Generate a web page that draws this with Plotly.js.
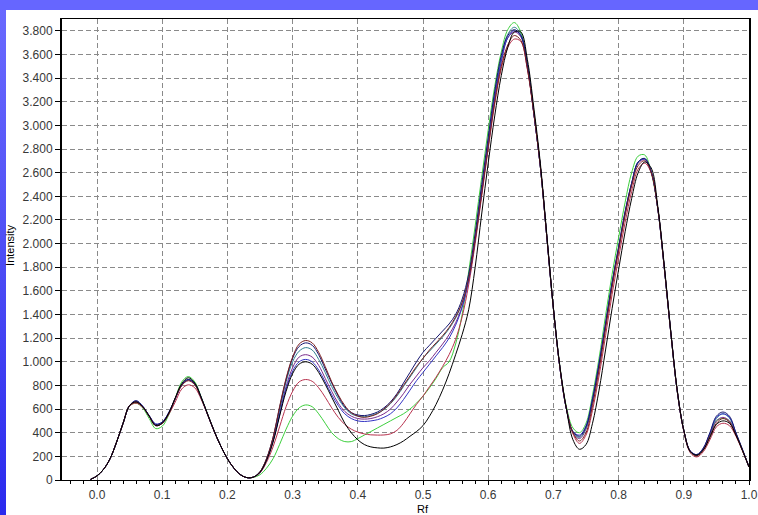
<!DOCTYPE html>
<html><head><meta charset="utf-8">
<script src="https://cdn.plot.ly/plotly-3.0.1.min.js"></script>
<style>
html,body{margin:0;padding:0;width:758px;height:515px;overflow:hidden;}
#bg{position:absolute;left:0;top:0;width:758px;height:515px;background:linear-gradient(to bottom,#6a6aff 0px,#5252f6 220px,#2a2aee 515px);}
#topband{position:absolute;left:0;top:0;width:758px;height:10px;background:#6666ff;}
#white{position:absolute;left:6px;top:10px;width:752px;height:505px;background:#ffffff;}
#chart{position:absolute;left:0;top:0;width:758px;height:515px;}
</style>
</head><body>
<div id="bg"></div><div id="topband"></div><div id="white"></div>
<div id="chart"></div>
<script>
// Rf positions (x values)
const rf = [-0.01,
 0.00,0.01,0.02,0.03,0.04,0.05,0.06,0.07,0.08,0.09,
 0.10,0.11,0.12,0.13,0.14,0.15,0.16,0.17,0.18,0.19,
 0.20,0.21,0.22,0.23,0.24,0.25,0.26,0.27,0.28,0.29,
 0.30,0.31,0.32,0.33,0.34,0.35,0.36,0.37,0.38,0.39,
 0.40,0.41,0.42,0.43,0.44,0.45,0.46,0.47,0.48,0.49,
 0.50,0.51,0.52,0.53,0.54,0.55,0.56,0.57,0.58,0.59,
 0.60,0.61,0.62,0.63,0.64,0.65,0.66,0.67,0.68,0.69,
 0.70,0.71,0.72,0.73,0.74,0.75,0.76,0.77,0.78,0.79,
 0.80,0.81,0.82,0.83,0.84,0.85,0.86,0.87,0.88,0.89,
 0.90,0.91,0.92,0.93,0.94,0.95,0.96,0.97,0.98,0.99,1.00];

const seriesMaroon = [5,35,90,180,320,480,630,660,620,540,460,
 480,560,690,800,840,805,690,550,410,285,
 180,100,45,20,25,70,180,360,620,860,
 1040,1150,1180,1160,1080,960,830,720,630,570,
 540,530,540,560,600,650,720,800,880,960,
 1030,1100,1160,1220,1290,1380,1500,1700,2030,2420,
 2820,3200,3500,3680,3760,3720,3480,3100,2650,2050,
 1450,950,600,400,330,400,630,930,1280,1630,
 1940,2240,2490,2660,2700,2600,2300,1800,1250,750,
 420,240,205,255,370,480,520,490,380,250,110];

const seriesNavy = [5,35,90,180,320,480,630,670,625,545,470,
 490,570,690,805,850,815,695,550,410,285,
 180,100,45,20,25,70,180,360,610,850,
 1030,1130,1160,1140,1060,940,820,710,620,570,
 550,545,555,575,610,660,730,820,910,1000,
 1080,1140,1200,1260,1320,1400,1530,1740,2090,2500,
 2900,3290,3590,3760,3810,3760,3510,3100,2650,2050,
 1450,950,600,410,370,450,680,980,1320,1670,
 1970,2270,2510,2690,2720,2610,2300,1800,1250,750,
 420,245,215,270,400,540,575,540,400,260,110];

const seriesTeal = [5,35,90,180,320,480,630,665,620,540,465,
 485,565,690,805,850,810,690,550,410,285,
 180,100,45,20,25,70,175,350,590,830,
 1000,1090,1120,1100,1020,910,790,690,610,560,
 540,535,545,565,595,645,710,790,870,950,
 1030,1090,1150,1210,1280,1370,1500,1710,2060,2470,
 2870,3270,3570,3770,3830,3770,3520,3110,2650,2050,
 1450,950,600,405,360,440,670,970,1310,1660,
 1960,2260,2510,2690,2720,2610,2300,1800,1250,750,
 420,240,210,265,390,520,560,525,395,255,110];

const seriesPurple = [5,35,90,180,320,480,630,660,620,540,460,
 480,560,685,800,845,810,690,550,410,285,
 180,100,45,20,25,65,170,330,560,790,
 950,1040,1060,1040,970,860,750,650,580,540,
 520,515,520,535,560,600,660,730,810,880,
 950,1010,1080,1150,1230,1330,1470,1690,2030,2430,
 2830,3230,3540,3740,3790,3750,3500,3100,2650,2050,
 1450,950,600,400,350,430,660,960,1300,1650,
 1950,2250,2500,2680,2710,2600,2300,1800,1250,750,
 420,240,210,260,380,500,530,500,385,250,110];

const seriesBlue = [5,35,90,180,320,480,630,670,625,545,475,
 490,570,690,805,850,815,695,550,410,285,
 180,100,45,20,25,65,170,330,550,770,
 920,1000,1020,1000,930,830,720,630,560,520,
 500,495,500,510,530,560,610,680,760,840,
 910,980,1050,1120,1200,1310,1460,1690,2040,2440,
 2840,3240,3540,3740,3800,3760,3510,3100,2650,2050,
 1450,950,600,410,380,460,690,990,1330,1670,
 1970,2270,2510,2690,2715,2610,2300,1800,1250,750,
 420,245,215,270,395,530,560,530,395,255,110];

const seriesBlack = [5,35,90,180,320,480,630,660,620,540,460,
 480,565,695,815,865,820,695,550,410,285,
 180,100,45,20,25,65,165,320,540,750,
 900,980,1000,980,910,810,700,590,480,400,
 340,300,280,272,270,280,300,330,370,410,
 460,540,640,760,900,1060,1230,1440,1800,2250,
 2680,3080,3420,3660,3790,3790,3560,3150,2680,2070,
 1460,960,600,340,260,300,480,760,1100,1450,
 1780,2100,2380,2600,2690,2640,2320,1820,1260,760,
 420,240,210,255,360,470,500,480,380,250,110];

const seriesRed = [5,35,90,180,320,480,625,650,615,540,465,
 480,555,660,770,805,780,680,545,405,285,
 180,100,45,20,25,60,150,280,450,620,
 750,830,850,835,780,700,610,530,470,430,
 405,390,382,380,381,390,420,480,560,640,
 710,790,870,960,1060,1190,1380,1650,2000,2400,
 2800,3180,3480,3660,3730,3710,3480,3100,2650,2050,
 1450,950,600,390,310,380,590,880,1220,1570,
 1880,2180,2440,2630,2680,2600,2300,1800,1250,750,
 410,230,195,240,340,450,480,460,370,245,110];

const seriesGreen = [5,35,90,180,320,480,625,650,610,520,435,
 455,550,690,830,875,830,700,555,410,285,
 180,100,45,20,22,45,100,180,300,430,
 540,610,635,620,560,480,400,350,325,325,
 350,380,410,440,470,500,530,560,600,650,
 710,780,860,950,1000,1150,1400,1760,2150,2560,
 2960,3330,3620,3810,3870,3790,3520,3110,2650,2050,
 1450,960,620,440,400,480,720,1030,1390,1740,
 2050,2350,2600,2740,2750,2600,2300,1800,1250,750,
 420,240,210,260,385,500,520,500,385,250,110];

const seriesNames = ['Green','Red','Purple','Teal','Blue','Navy','Maroon','Black'];
const seriesColors = ['#3ccf3c','#b8324e','#7a2a8a','#2f7f8f','#3434c4','#14146e','#7a1e1e','#000000'];
const seriesData = [seriesGreen,seriesRed,seriesPurple,seriesTeal,seriesBlue,seriesNavy,seriesMaroon,seriesBlack];

const xTickVals = [0,0.1,0.2,0.3,0.4,0.5,0.6,0.7,0.8,0.9,1.0];
const xTickText = ['0.0','0.1','0.2','0.3','0.4','0.5','0.6','0.7','0.8','0.9','1.0'];
const yTickVals = [0,200,400,600,800,1000,1200,1400,1600,1800,2000,2200,2400,2600,2800,3000,3200,3400,3600,3800];
const yTickText = ['0','200','400','600','800','1.000','1.200','1.400','1.600','1.800','2.000','2.200','2.400','2.600','2.800','3.000','3.200','3.400','3.600','3.800'];

const traces = seriesData.map((d,i)=>({
  x: rf, y: d, type:'scatter', mode:'lines', name: seriesNames[i],
  line:{color: seriesColors[i], width:1, shape:'spline', smoothing:1},
  hoverinfo:'skip'
}));

const gridStyle = {showgrid:true, gridcolor:'#8a8a8a', gridwidth:1, griddash:'5px,3px'};

const layout = {
  width:758, height:515,
  margin:{l:62, r:9, t:19, b:35, pad:0},
  paper_bgcolor:'rgba(0,0,0,0)', plot_bgcolor:'#ffffff',
  showlegend:false,
  font:{family:'Liberation Sans, Arial, sans-serif', size:12, color:'#383838'},
  xaxis:Object.assign({
    range:[-0.0537,1.0], tickmode:'array', tickvals:xTickVals, ticktext:xTickText,
    ticks:'outside', ticklen:4, tickcolor:'#000', tickwidth:1,
    showline:true, linecolor:'#000', linewidth:1, mirror:true, zeroline:false,
    minor:{tick0:0, dtick:0.02, ticks:'outside', ticklen:3, tickcolor:'#000', showgrid:false},
    fixedrange:true
  }, gridStyle),
  yaxis:Object.assign({
    range:[0,3900], tickmode:'array', tickvals:yTickVals, ticktext:yTickText,
    ticks:'outside', ticklen:5, tickcolor:'#000', tickwidth:1,
    showline:true, linecolor:'#000', linewidth:2, mirror:true, zeroline:false,
    fixedrange:true
  }, gridStyle),
  annotations:[
    {text:'Intensity', xref:'paper', yref:'paper', x:-0.0757, y:0.51, textangle:-90,
     showarrow:false, xanchor:'center', yanchor:'middle', font:{size:11, color:'#000'}},
    {text:'Rf', xref:'x', yref:'paper', x:0.5, y:-0.0629, borderpad:0,
     showarrow:false, xanchor:'center', yanchor:'middle', font:{size:11, color:'#000'}}
  ]
};

Plotly.newPlot('chart', traces, layout, {displayModeBar:false, staticPlot:true});
</script>
</body></html>
